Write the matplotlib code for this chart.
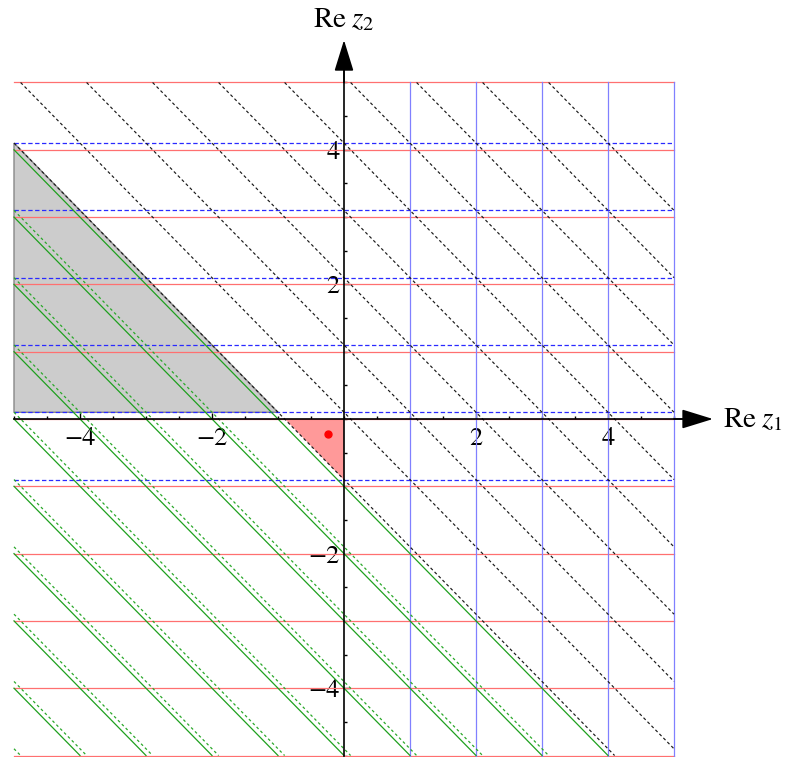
import matplotlib.pyplot as plt
import numpy as np

plt.rcParams['mathtext.fontset'] = 'stix'
plt.rcParams['font.family'] = ['STIXGeneral', 'DejaVu Serif']

# plotting box
box_lo, box_hi = -5, 5

# horizontal / vertical grid-like lines
red_levels = [-5, -4, -3, -2, -1, 0, 1, 2, 3, 4, 5]
blue_dash_levels = [-0.9, 0.1, 1.1, 2.1, 3.1, 4.1]
blue_verticals = [1, 2, 3, 4, 5]

# diagonal lines x + y = c
black_diag = [-0.9, 0.1, 1.1, 2.1, 3.1, 4.1, 5.1, 6.1, 7.1, 8.1]
green_solid = [-1, -2, -3, -4, -5, -6, -7, -8, -9]
green_dashed = [-1.9, -2.9, -3.9, -4.9, -5.9, -6.9, -7.9, -8.9, -9.9]

# shaded regions
gray_x = [-5, -1, -5]
gray_y = [0.1, 0.1, 4.1]
pink_x = [-0.9, 0, 0]
pink_y = [0, 0, -0.9]

# marked point
point_x, point_y = -0.25, -0.23


def diag(ax, c, **kw):
    # clip x + y = c to the box
    x0 = max(box_lo, c - box_hi)
    x1 = min(box_hi, c - box_lo)
    ax.plot([x0, x1], [c - x0, c - x1], **kw)


fig = plt.figure(figsize=(7.89, 7.57), dpi=100)
ax = fig.add_axes([0, 0, 1, 1])
ax.set_xlim(-344 / 66, (789 - 344) / 66)
ax.set_ylim((419 - 757) / 67.3, 419 / 67.3)

# fills
ax.fill(gray_x, gray_y, facecolor='#cccccc', edgecolor='#888888', lw=1, zorder=1)
ax.fill(pink_x, pink_y, facecolor='#ff9999', edgecolor='none', zorder=1)

# horizontal and vertical lines
for y in red_levels:
    ax.plot([box_lo, box_hi], [y, y], color='#ff7070', lw=0.9, zorder=2)
for x in blue_verticals:
    ax.plot([x, x], [box_lo, box_hi], color='#8080ff', lw=0.9, zorder=2)
for y in blue_dash_levels:
    ax.plot([box_lo, box_hi], [y, y], color='#2a2aff', lw=0.9,
            dashes=(3.5, 2), zorder=2)

# diagonals
for c in green_solid:
    diag(ax, c, color='#1ea01e', lw=0.9, zorder=2)
for c in green_dashed:
    diag(ax, c, color='#2aa82a', lw=0.9, dashes=(2.2, 2.2), zorder=2)
for c in black_diag:
    diag(ax, c, color='#1a1a1a', lw=0.85, dashes=(2.6, 2.2), zorder=2)

ax.plot(point_x, point_y, 'o', color='red', ms=5, zorder=4)

# axes through the origin
for s in ['top', 'right']:
    ax.spines[s].set_visible(False)
ax.spines['left'].set_position(('data', 0))
ax.spines['bottom'].set_position(('data', 0))
ax.spines['bottom'].set_bounds(-5, 5.3)
ax.spines['left'].set_bounds(-5, 5.3)
for s in ['left', 'bottom']:
    ax.spines[s].set_linewidth(1.2)
    ax.spines[s].set_zorder(3)

ax.set_xticks([-4, -2, 2, 4])
ax.set_yticks([-4, -2, 2, 4])
ax.set_xticklabels(['\u22124', '\u22122', '2', '4'])
ax.set_yticklabels(['\u22124', '\u22122', '2', '4'])
ax.set_xticks(np.arange(-5, 5.01, 0.5), minor=True)
ax.set_yticks(np.arange(-5, 5.01, 0.5), minor=True)
ax.tick_params(which='both', direction='in', width=1)
ax.tick_params(which='major', length=4, labelsize=19)
ax.tick_params(which='minor', length=2.5)
ax.tick_params(axis='x', which='major', pad=6)
ax.tick_params(axis='y', which='major', pad=3)

# arrowheads
arrow = dict(arrowstyle='-|>,head_length=0.97,head_width=0.3', color='k',
             lw=1.2, shrinkA=0, shrinkB=0, mutation_scale=20)
ax.annotate('', xy=(5.59, 0), xytext=(5.0, 0), arrowprops=arrow, zorder=3)
ax.annotate('', xy=(0, 5.63), xytext=(0, 5.0), arrowprops=arrow, zorder=3)

ax.text(5.74, -0.12, r'$\mathrm{Re}\;z_1$', fontsize=21, ha='left', va='baseline')
ax.text(0, 5.82, r'$\mathrm{Re}\;z_2$', fontsize=21, ha='center', va='baseline')

fig.savefig('out.png', dpi=100)
